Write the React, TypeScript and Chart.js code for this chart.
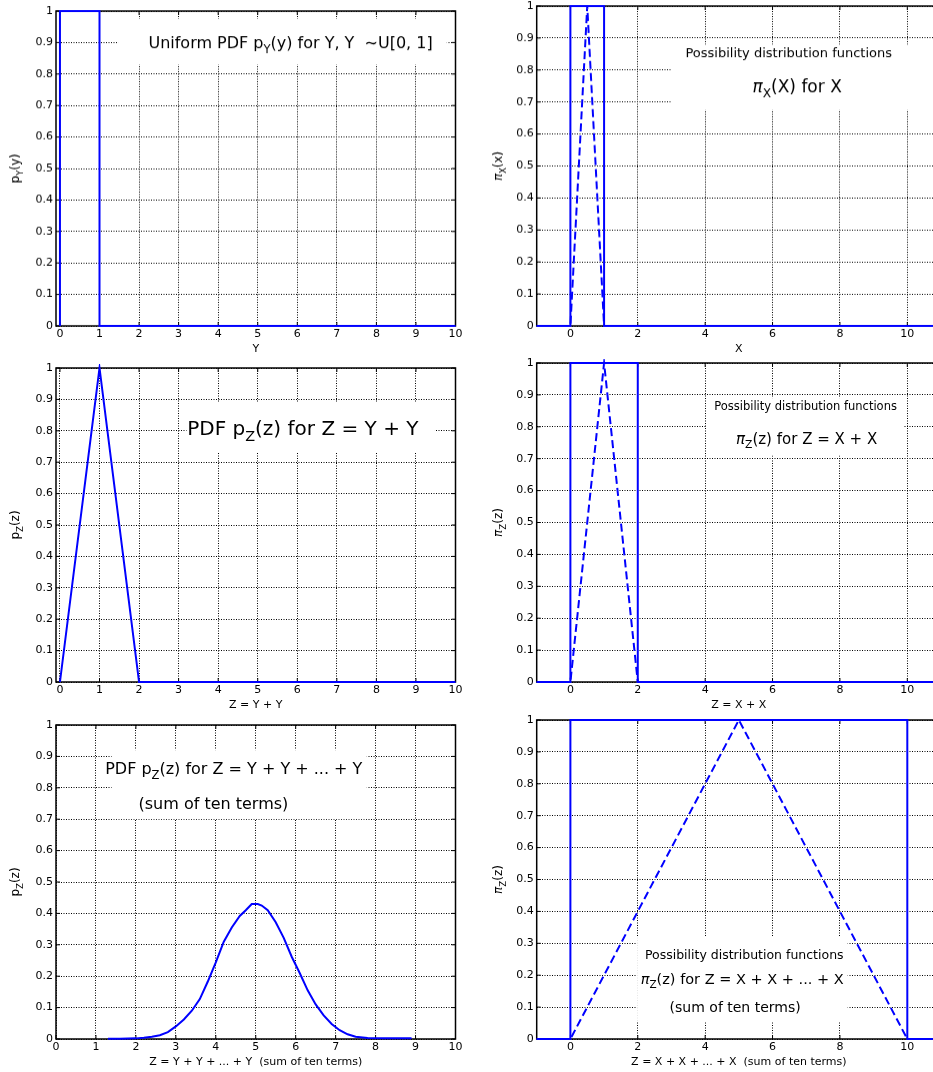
import React, { useEffect, useRef } from "react";
import { Chart, registerables } from "chart.js";
Chart.register(...registerables);
Chart.defaults.font.family = '"DejaVu Sans", sans-serif';
Chart.defaults.color = "#000";

// ---------------- data ----------------
const uniformX = [0, 0, 1, 1, 10];
const uniformY = [0, 1, 1, 0, 0];

const possXRectX = [-1, 0, 0, 1, 1, 11];
const possXRectY = [0, 0, 1, 1, 0, 0];
const possXTriX = [-1, 0, 0.5, 1, 11];
const possXTriY = [0, 0, 1, 0, 0];

const pdfZ2X = [0, 1, 2, 10];
const pdfZ2Y = [0, 1, 0, 0];

const possZ2RectX = [-1, 0, 0, 2, 2, 11];
const possZ2RectY = [0, 0, 1, 1, 0, 0];
const possZ2TriX = [-1, 0, 1, 2, 11];
const possZ2TriY = [0, 0, 1, 0, 0];

const pdfZ10X = [1.3, 1.6, 2.0, 2.2, 2.4, 2.6, 2.8, 3.0, 3.2, 3.4, 3.6, 3.8, 4.0, 4.2, 4.4, 4.6, 4.75, 4.9, 5.05, 5.15, 5.3, 5.5, 5.7, 5.9, 6.1, 6.3, 6.5, 6.7, 6.9, 7.1, 7.3, 7.5, 7.8, 8.2, 8.9];
const pdfZ10Y = [0.001, 0.001, 0.002, 0.004, 0.007, 0.012, 0.022, 0.04, 0.062, 0.09, 0.127, 0.183, 0.244, 0.31, 0.355, 0.392, 0.41, 0.43, 0.43, 0.425, 0.41, 0.372, 0.322, 0.262, 0.21, 0.155, 0.11, 0.075, 0.048, 0.028, 0.015, 0.007, 0.003, 0.002, 0.002];

const possZ10RectX = [-1, 0, 0, 10, 10, 11];
const possZ10RectY = [0, 0, 1, 1, 0, 0];
const possZ10TriX = [-1, 0, 5, 10, 11];
const possZ10TriY = [0, 0, 1, 0, 0];

const yTicks = [0, 0.1, 0.2, 0.3, 0.4, 0.5, 0.6, 0.7, 0.8, 0.9, 1];
const yTickLabels = ["0", "0.1", "0.2", "0.3", "0.4", "0.5", "0.6", "0.7", "0.8", "0.9", "1"];
const leftXTicks = [0, 1, 2, 3, 4, 5, 6, 7, 8, 9, 10];
const leftXTickLabels = ["0", "1", "2", "3", "4", "5", "6", "7", "8", "9", "10"];
const rightXTicks = [0, 2, 4, 6, 8, 10];
const rightXTickLabels = ["0", "2", "4", "6", "8", "10"];

// ---------------- layout / style ----------------
const BLUE = "#0000ff";
const FONT = '"DejaVu Sans"';

type Seg = { t: string; k: number; it?: boolean; w?: number };

function parseRich(s: string): Seg[] {
  const segs: Seg[] = [];
  let buf = "";
  let i = 0;
  while (i < s.length) {
    const c = s[i];
    if ((c === "_" || c === "^") && s[i + 1] === "{") {
      if (buf) segs.push({ t: buf, k: 0 });
      buf = "";
      const end = s.indexOf("}", i);
      segs.push({ t: s.slice(i + 2, end), k: c === "_" ? 1 : 2 });
      i = end + 1;
    } else if (c === "π") {
      if (buf) segs.push({ t: buf, k: 0 });
      buf = "";
      segs.push({ t: "π", k: 0, it: true });
      i++;
    } else {
      buf += c;
      i++;
    }
  }
  if (buf) segs.push({ t: buf, k: 0 });
  return segs;
}

function drawRich(ctx: CanvasRenderingContext2D, s: string, cx: number, cy: number, size: number) {
  const segs = parseRich(s);
  const fontOf = (g: Seg) => `${g.it ? "italic " : ""}${g.k ? size * 0.72 : size}px ${FONT}`;
  let w = 0;
  for (const g of segs) {
    ctx.font = fontOf(g);
    g.w = ctx.measureText(g.t).width;
    w += g.w;
  }
  let x = cx - w / 2;
  const base = cy + size * 0.36;
  ctx.textAlign = "left";
  ctx.textBaseline = "alphabetic";
  ctx.fillStyle = "#000";
  for (const g of segs) {
    ctx.font = fontOf(g);
    const dy = g.k === 1 ? size * 0.28 : g.k === 2 ? -size * 0.4 : 0;
    ctx.fillText(g.t, x, base + dy);
    x += g.w || 0;
  }
}

type Line = { x: number; y: number; size: number; text: string };
type Box = { x0: number; x1: number; y0: number; y1: number };
type Series = { xs: number[]; ys: number[]; dashed?: boolean };

type PanelCfg = {
  cx: number; cw: number; L: number; R: number; T: number; B: number;
  xmin: number; xmax: number; xticks: number[]; xlabels: string[];
  xTitle: string; yTitle: string; series: Series[]; box: Box; lines: Line[];
};

const LEFT_COL = { cx: 0, cw: 466, L: 56, R: 455.5 };
const RIGHT_COL = { cx: 466, cw: 484, L: 536.7, R: 941 };

const panels: PanelCfg[] = [
  {
    ...LEFT_COL, T: 11, B: 325.7, xmin: -0.1, xmax: 10, xticks: leftXTicks, xlabels: leftXTickLabels,
    xTitle: "Y", yTitle: "p_{Y}(y)",
    series: [{ xs: uniformX, ys: uniformY }],
    box: { x0: 1.47, x1: 9.78, y0: 0.83, y1: 0.975 },
    lines: [{ x: 5.83, y: 0.9, size: 16, text: "Uniform PDF p_{Y}(y) for Y, Y  ∼U[0, 1]" }],
  },
  {
    ...RIGHT_COL, T: 6.3, B: 325.7, xmin: -1, xmax: 11, xticks: rightXTicks, xlabels: rightXTickLabels,
    xTitle: "X", yTitle: "π_{X}(x)",
    series: [{ xs: possXTriX, ys: possXTriY, dashed: true }, { xs: possXRectX, ys: possXRectY }],
    box: { x0: 3.0, x1: 11, y0: 0.675, y1: 0.879 },
    lines: [
      { x: 6.48, y: 0.855, size: 13, text: "Possibility distribution functions" },
      { x: 6.73, y: 0.75, size: 17, text: "π_{X}(X) for X" },
    ],
  },
  {
    ...LEFT_COL, T: 367.7, B: 682.3, xmin: -0.1, xmax: 10, xticks: leftXTicks, xlabels: leftXTickLabels,
    xTitle: "Z = Y + Y", yTitle: "p_{Z}(z)",
    series: [{ xs: pdfZ2X, ys: pdfZ2Y }],
    box: { x0: 3.2, x1: 9.48, y0: 0.73, y1: 0.89 },
    lines: [{ x: 6.14, y: 0.809, size: 20, text: "PDF p_{Z}(z) for Z = Y + Y" }],
  },
  {
    ...RIGHT_COL, T: 363, B: 682.3, xmin: -1, xmax: 11, xticks: rightXTicks, xlabels: rightXTickLabels,
    xTitle: "Z = X + X", yTitle: "π_{Z}(z)",
    series: [{ xs: possZ2TriX, ys: possZ2TriY, dashed: true }, { xs: possZ2RectX, ys: possZ2RectY }],
    box: { x0: 4.05, x1: 9.9, y0: 0.71, y1: 0.89 },
    lines: [
      { x: 6.98, y: 0.866, size: 11.5, text: "Possibility distribution functions" },
      { x: 7.01, y: 0.764, size: 15, text: "π_{Z}(z) for Z = X + X" },
    ],
  },
  {
    ...LEFT_COL, T: 724.7, B: 1039.3, xmin: 0, xmax: 10, xticks: leftXTicks, xlabels: leftXTickLabels,
    xTitle: "Z = Y + Y + ... + Y  (sum of ten terms)", yTitle: "p_{Z}(z)",
    series: [{ xs: pdfZ10X, ys: pdfZ10Y }],
    box: { x0: 1.39, x1: 7.78, y0: 0.7, y1: 0.92 },
    lines: [
      { x: 4.45, y: 0.861, size: 16, text: "PDF p_{Z}(z) for Z = Y + Y + ... + Y" },
      { x: 3.94, y: 0.752, size: 16, text: "(sum of ten terms)" },
    ],
  },
  {
    ...RIGHT_COL, T: 720, B: 1039, xmin: -1, xmax: 11, xticks: rightXTicks, xlabels: rightXTickLabels,
    xTitle: "Z = X + X + ... + X  (sum of ten terms)", yTitle: "π_{Z}(z)",
    series: [{ xs: possZ10TriX, ys: possZ10TriY, dashed: true }, { xs: possZ10RectX, ys: possZ10RectY }],
    box: { x0: 1.98, x1: 8.23, y0: 0.053, y1: 0.32 },
    lines: [
      { x: 5.16, y: 0.2655, size: 12.5, text: "Possibility distribution functions" },
      { x: 5.1, y: 0.19, size: 14.5, text: "π_{Z}(z) for Z = X + X + ... + X" },
      { x: 4.89, y: 0.101, size: 14, text: "(sum of ten terms)" },
    ],
  },
];

const TOP_PAD = 12;
const X_AXIS_H = 30;

function decoPlugin(p: PanelCfg) {
  return {
    id: "deco",
    beforeDatasetsDraw(chart: any) {
      const { ctx, chartArea: a, scales } = chart;
      const xs = scales.x, ys = scales.y;
      ctx.save();
      // annotation box (white, hides the grid)
      const bx0 = xs.getPixelForValue(p.box.x0), bx1 = xs.getPixelForValue(p.box.x1);
      const by0 = ys.getPixelForValue(p.box.y1), by1 = ys.getPixelForValue(p.box.y0);
      ctx.fillStyle = "#fff";
      ctx.fillRect(bx0, by0, bx1 - bx0, by1 - by0);
      // inward ticks
      ctx.strokeStyle = "#000";
      ctx.lineWidth = 1;
      ctx.beginPath();
      for (const v of p.xticks) {
        const px = xs.getPixelForValue(v);
        ctx.moveTo(px, a.bottom); ctx.lineTo(px, a.bottom - 4);
        ctx.moveTo(px, a.top); ctx.lineTo(px, a.top + 4);
      }
      for (const v of yTicks) {
        const py = ys.getPixelForValue(v);
        ctx.moveTo(a.left, py); ctx.lineTo(a.left + 4, py);
        ctx.moveTo(a.right, py); ctx.lineTo(a.right - 4, py);
      }
      ctx.stroke();
      // frame
      ctx.lineWidth = 1.5;
      ctx.strokeRect(a.left, a.top, a.right - a.left, a.bottom - a.top);
      ctx.restore();
    },
    afterDatasetsDraw(chart: any) {
      const { ctx, chartArea: a, scales } = chart;
      const xs = scales.x, ys = scales.y;
      ctx.save();
      for (const ln of p.lines) {
        drawRich(ctx, ln.text, xs.getPixelForValue(ln.x), ys.getPixelForValue(ln.y), ln.size);
      }
      // y axis title (rotated)
      const tx = p.cx === 0 ? 15 : 498 - p.cx;
      ctx.translate(tx, (a.top + a.bottom) / 2);
      ctx.rotate(-Math.PI / 2);
      drawRich(ctx, p.yTitle, 0, 0, 12);
      ctx.restore();
    },
  };
}

function buildConfig(p: PanelCfg): any {
  return {
    type: "scatter",
    data: {
      datasets: p.series.map((s) => ({
        data: s.xs.map((x, i) => ({ x, y: s.ys[i] })),
        showLine: true,
        borderColor: BLUE,
        backgroundColor: BLUE,
        borderWidth: 2,
        borderDash: s.dashed ? [8, 4] : [],
        pointRadius: 0,
        pointHoverRadius: 0,
        tension: 0,
        fill: false,
        clip: 4,
      })),
    },
    options: {
      responsive: false,
      animation: false,
      events: [],
      layout: {
        autoPadding: false,
        padding: { top: TOP_PAD, right: p.cx + p.cw - p.R, bottom: 0, left: 0 },
      },
      plugins: { legend: { display: false }, tooltip: { enabled: false }, title: { display: false } },
      scales: {
        x: {
          type: "linear",
          position: "bottom",
          min: p.xmin,
          max: p.xmax,
          afterBuildTicks: (s: any) => { s.ticks = p.xticks.map((v) => ({ value: v })); },
          afterFit: (s: any) => { s.height = X_AXIS_H; },
          ticks: {
            autoSkip: false,
            maxRotation: 0,
            padding: 2,
            color: "#000",
            font: { size: 11, family: FONT },
            callback: (_v: any, i: number) => p.xlabels[i],
          },
          grid: { color: "#000", lineWidth: 1, drawTicks: false },
          border: { display: false, dash: [1, 1.5] },
          title: {
            display: true,
            text: p.xTitle,
            color: "#000",
            font: { size: 11, family: FONT },
            padding: { top: 0, bottom: 0.4 },
          },
        },
        y: {
          type: "linear",
          position: "left",
          min: 0,
          max: 1,
          afterBuildTicks: (s: any) => { s.ticks = yTicks.map((v) => ({ value: v })); },
          afterFit: (s: any) => { s.width = p.L - p.cx; },
          ticks: {
            autoSkip: false,
            padding: 3,
            color: "#000",
            font: { size: 11, family: FONT },
            callback: (_v: any, i: number) => yTickLabels[i],
          },
          grid: { color: "#000", lineWidth: 1, drawTicks: false },
          border: { display: false, dash: [1, 1.5] },
        },
      },
    },
    plugins: [decoPlugin(p)],
  };
}

function Panel({ p }: { p: PanelCfg }) {
  const ref = useRef<HTMLCanvasElement>(null);
  const top = p.T - TOP_PAD;
  const h = p.B + X_AXIS_H - top;
  useEffect(() => {
    const chart = new Chart(ref.current as HTMLCanvasElement, buildConfig(p));
    return () => chart.destroy();
  }, []);
  return (
    <canvas
      ref={ref}
      width={p.cw}
      height={h}
      style={{ position: "absolute", left: p.cx, top, width: p.cw, height: h }}
    />
  );
}

export default function App() {
  return (
    <div
      style={{
        position: "absolute",
        left: 0,
        top: 0,
        width: 933,
        height: 1072,
        overflow: "hidden",
        background: "#fff",
      }}
    >
      {panels.map((p, i) => (
        <Panel key={i} p={p} />
      ))}
    </div>
  );
}
